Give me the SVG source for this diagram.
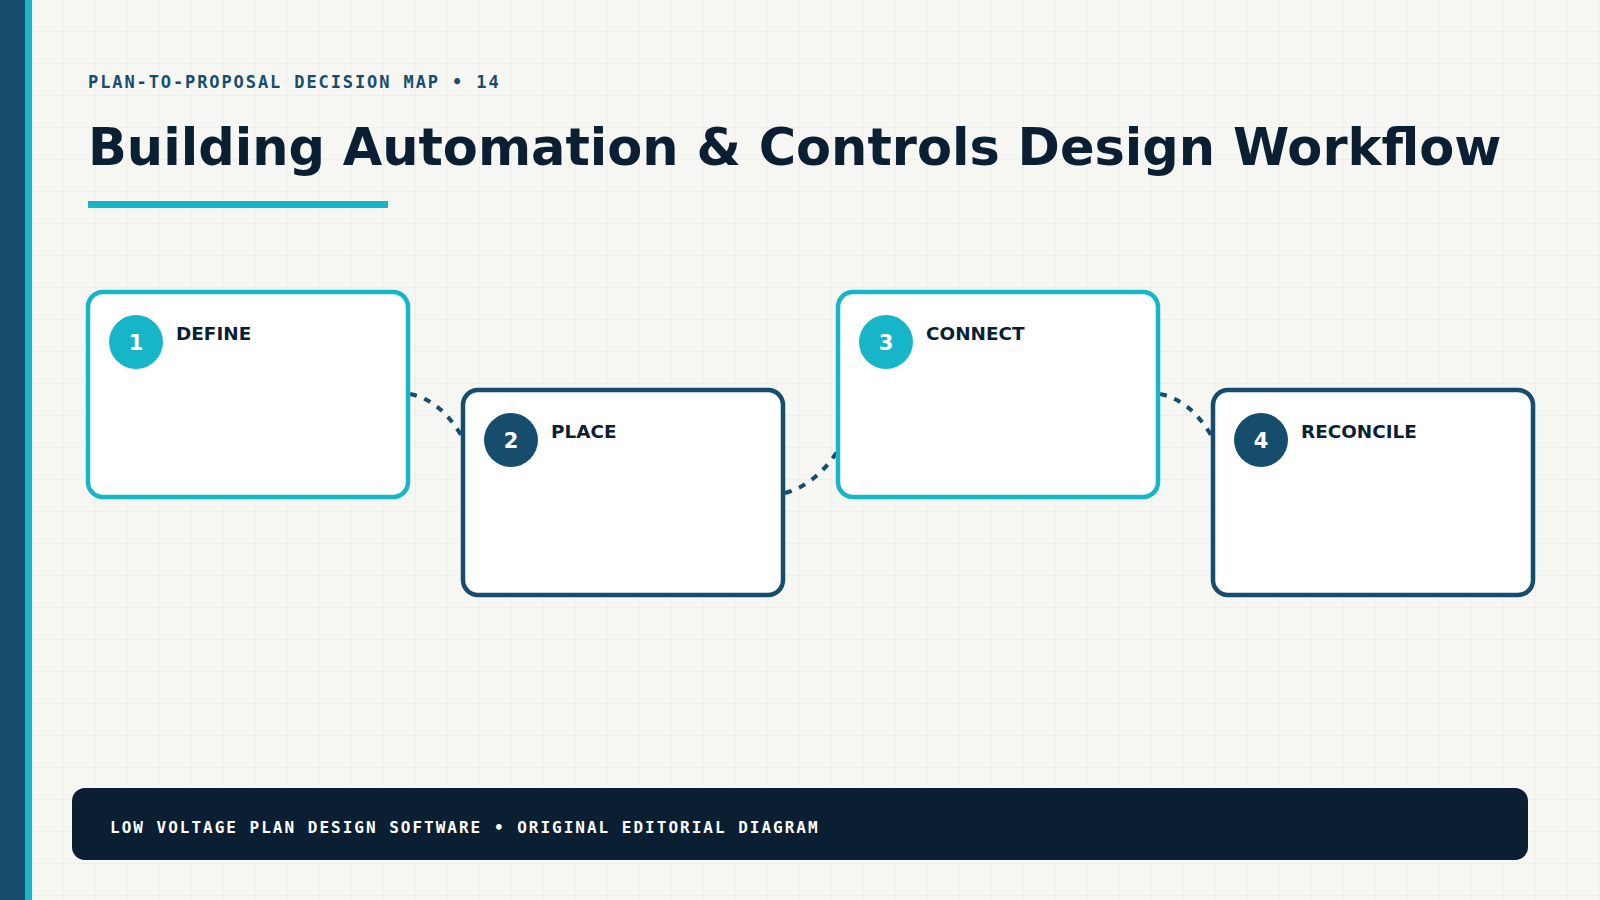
<svg xmlns="http://www.w3.org/2000/svg" width="1600" height="900" viewBox="0 0 1600 900">
<defs>
<pattern id="grid" width="32" height="32" patternUnits="userSpaceOnUse">
<path d="M32 0V32M0 32H32" fill="none" stroke="#e9ebe6" stroke-width="1"/>
</pattern>
<style>
.card{fill:#fff;stroke-width:4.5}
.c1{stroke:#16b6c8}.c2{stroke:#174d6c}
.lbl{font-family:"DejaVu Sans",sans-serif;font-weight:bold;font-size:18.4px;fill:#0b1f33}
.num{font-family:"DejaVu Sans",sans-serif;font-weight:bold;font-size:21px;fill:#fff;text-anchor:middle}
.con{fill:none;stroke:#174d6c;stroke-width:4;stroke-dasharray:7 8}
</style>
</defs>
<rect width="1600" height="900" fill="#f6f6f2"/>
<rect width="1600" height="900" fill="url(#grid)"/>
<rect x="0" y="0" width="25" height="900" fill="#174d6c"/>
<rect x="25" y="0" width="7" height="900" fill="#16b6c8"/>
<text x="88" y="88" font-family="DejaVu Sans Mono,monospace" font-weight="bold" font-size="17" letter-spacing="1.9" fill="#174d6c">PLAN-TO-PROPOSAL DECISION MAP • 14</text>
<text x="88" y="165" font-family="DejaVu Sans,sans-serif" font-weight="bold" font-size="51" fill="#0b1f33">Building Automation &amp; Controls Design Workflow</text>
<rect x="88" y="201" width="300" height="7" fill="#16b6c8"/>
<g id="connectors">
<path class="con" d="M410 394 Q440 400 461 435"/>
<path class="con" d="M785 493 Q815 485 837 452"/>
<path class="con" d="M1160 394 Q1190 400 1211 435"/>
</g>
<g id="node1"><rect class="card c1" x="88" y="292" width="320" height="205" rx="15"/><circle cx="136" cy="342" r="27" fill="#16b6c8"/><text class="num" x="136" y="350">1</text><text class="lbl" x="176" y="340">DEFINE</text></g>
<g id="node2"><rect class="card c2" x="463" y="390" width="320" height="205" rx="15"/><circle cx="511" cy="440" r="27" fill="#174d6c"/><text class="num" x="511" y="448">2</text><text class="lbl" x="551" y="438">PLACE</text></g>
<g id="node3"><rect class="card c1" x="838" y="292" width="320" height="205" rx="15"/><circle cx="886" cy="342" r="27" fill="#16b6c8"/><text class="num" x="886" y="350">3</text><text class="lbl" x="926" y="340">CONNECT</text></g>
<g id="node4"><rect class="card c2" x="1213" y="390" width="320" height="205" rx="15"/><circle cx="1261" cy="440" r="27" fill="#174d6c"/><text class="num" x="1261" y="448">4</text><text class="lbl" x="1301" y="438">RECONCILE</text></g>
<rect x="72" y="788" width="1456" height="72" rx="13" fill="#0b1f33"/>
<text x="110" y="833" font-family="DejaVu Sans Mono,monospace" font-weight="bold" font-size="16" letter-spacing="2" fill="#fff">LOW VOLTAGE PLAN DESIGN SOFTWARE • ORIGINAL EDITORIAL DIAGRAM</text>
</svg>
